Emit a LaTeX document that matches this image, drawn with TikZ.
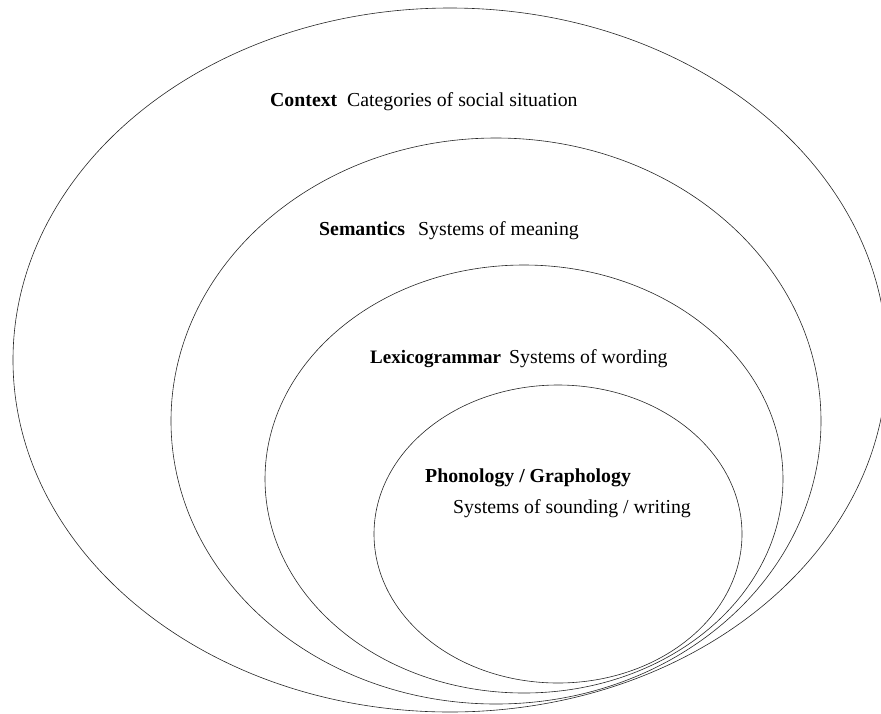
\documentclass[tikz,border=0pt]{standalone}
\usepackage{fontspec}
\setmainfont{Liberation Serif}
\begin{document}
\begin{tikzpicture}[x=1pt,y=-1pt,
  ring/.style={draw=black!85, line width=0.6pt},
  lbl/.style={anchor=base west, inner sep=0pt, font=\fontsize{19.8}{23}\selectfont},
  hd/.style={lbl, font=\fontsize{19.8}{23}\selectfont\bfseries},
  hdtight/.style={lbl, font=\fontsize{19}{23}\selectfont\bfseries}]
  \useasboundingbox (0,0) rectangle (881,713);
  \clip (0,0) rectangle (881,713);
  % strata, outermost to innermost
  \draw[ring] (450,360) ellipse [x radius=437pt, y radius=352pt];
  \draw[ring] (496,421) ellipse [x radius=325pt, y radius=283pt];
  \draw[ring] (524,479) ellipse [x radius=259pt, y radius=214pt];
  \draw[ring] (558,534) ellipse [x radius=184pt, y radius=149pt];
  % labels
  \node[hd]  (ctxh) at (270,106) {Context};
  \node[lbl] (ctxt) at (347,106) {Categories of social situation};
  \node[hd]  (semh) at (319,235) {Semantics};
  \node[lbl] (semt) at (418,235) {Systems of meaning};
  \node[hdtight] (lexh) at (370,363) {Lexicogrammar};
  \node[lbl] (lext) at (509,363) {Systems of wording};
  \node[hd]  (phoh) at (425,482) {Phonology / Graphology};
  \node[lbl] (phot) at (453,513) {Systems of sounding / writing};
\end{tikzpicture}
\end{document}
